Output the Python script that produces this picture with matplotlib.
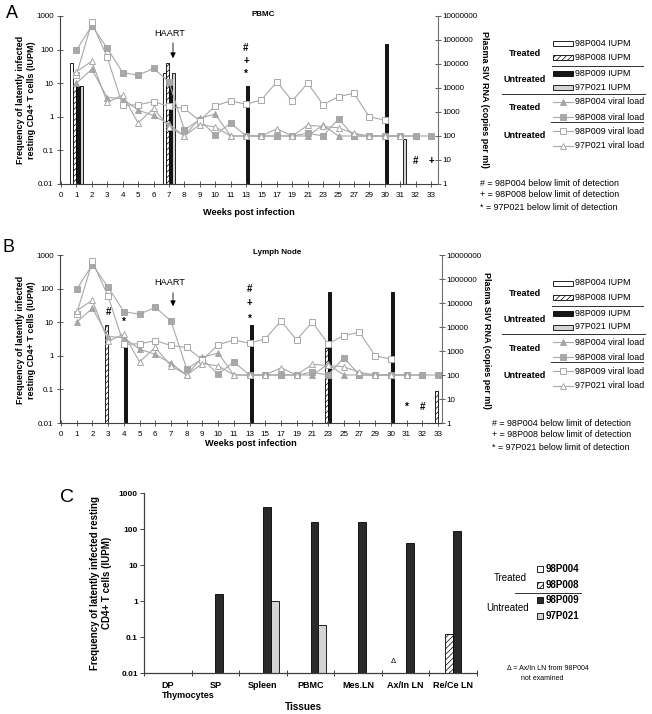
import numpy as np
import matplotlib
matplotlib.use('Agg')
import matplotlib.pyplot as plt
from matplotlib.patches import Rectangle
from matplotlib.lines import Line2D

plt.rcParams['font.family'] = ['Liberation Sans', 'DejaVu Sans']
plt.rcParams['hatch.linewidth'] = 0.5

nan = np.nan

# ---------------- data ----------------
weeks = [0, 1, 2, 3, 4, 5, 6, 7, 8, 9, 10, 11, 13, 15, 17, 19, 21, 23, 25, 27, 29, 30, 31, 32, 33]
week_labels = [str(w) for w in weeks]

# plasma viral load (copies per ml), aligned with weeks
vl_98P004 = [nan, 16000, 60000, 4000, 3600, 1200, 720, 310, 100, 550, 820, 100, 100, 100, 100, 100,
             100, 280, 100, 100, 100, 100, 100, 100, nan]
vl_98P008 = [nan, 370000, 4000000, 450000, 44000, 34000, 66000, 18000, 180, 470, 107, 350, 100, 100,
             100, 100, 130, 100, 520, 100, 100, 100, 100, 100, 100]
vl_98P009 = [nan, 36000, 5400000, 190000, 1900, 2000, 2700, 1700, 1400, 430, 1800, 2900, 2100, 3200,
             18000, 2900, 16000, 2000, 4400, 6000, 630, 460, nan, nan, nan]
vl_97P021 = [nan, 48000, 130000, 2500, 5100, 350, 1400, 240, 100, 300, 240, 100, 100, 100, 200, 100,
             280, 250, 220, 130, 100, 100, 100, nan, nan]

# PBMC IUPM bars (week, value)
pbmc_98P004_w, pbmc_98P004_v = [1, 7], [40, 20]
pbmc_98P008_w, pbmc_98P008_v = [1, 7], [8, 40]
pbmc_98P009_w, pbmc_98P009_v = [1, 7, 13, 30], [8, 10, 8, 150]
pbmc_97P021_w, pbmc_97P021_v = [1, 7, 31], [8, 20, 0.22]

# Lymph node IUPM bars
ln_98P004_w, ln_98P004_v = [], []
ln_98P008_w, ln_98P008_v = [3, 23, 33], [8, 1.7, 0.09]
ln_98P009_w, ln_98P009_v = [4, 13, 23, 30], [3, 8, 80, 80]
ln_97P021_w, ln_97P021_v = [], []

# below-detection symbols (symbol, week, IUPM position)
pbmc_symbols = [('#', 13, 114), ('+', 13, 47), ('*', 13, 19), ('#', 32, 0.05), ('+', 33, 0.05)]
ln_symbols = [('#', 3, 20), ('*', 4, 10), ('#', 13, 98), ('+', 13, 37), ('*', 13, 13),
              ('*', 31, 0.03), ('#', 32, 0.03)]

# Panel C tissues
tissues = ['DP', 'SP', 'Spleen', 'PBMC', 'Mes.LN', 'Ax/In LN', 'Re/Ce LN']
tis_98P004 = [nan, nan, nan, nan, nan, nan, nan]
tis_98P008 = [nan, nan, nan, nan, nan, nan, 0.12]
tis_98P009 = [nan, 1.6, 420, 155, 155, 42, 88]
tis_97P021 = [nan, nan, 1.0, 0.21, nan, nan, nan]

animals = ['98P004', '98P008', '98P009', '97P021']

# ---------------- styles ----------------
BAR_STYLES = [
    dict(facecolor='white', edgecolor='black', linewidth=0.6),
    dict(facecolor='white', edgecolor='black', linewidth=0.6, hatch='//////'),
    dict(facecolor='#161616', edgecolor='black', linewidth=0.6),
    dict(facecolor='#d4d4d4', edgecolor='black', linewidth=0.6),
]
LC = '#a8a8a8'
LINE_STYLES = [
    dict(color=LC, lw=0.8, marker='^', ms=4.4, mfc='#a8a8a8', mec='#a0a0a0', mew=0.6),
    dict(color=LC, lw=0.8, marker='s', ms=4.4, mfc='#a8a8a8', mec='#a0a0a0', mew=0.6),
    dict(color=LC, lw=0.8, marker='s', ms=4.8, mfc='white', mec='#a8a8a8', mew=0.7),
    dict(color=LC, lw=0.8, marker='^', ms=4.8, mfc='white', mec='#a8a8a8', mew=0.7),
]
SPC = '#404040'

W, H = 652, 714
fig = plt.figure(figsize=(W / 100, H / 100), dpi=100)


def fx(x):
    return x / W


def fy(y):
    return 1 - y / H


def ftext(x, y, s, **kw):
    kw.setdefault('ha', 'center')
    kw.setdefault('va', 'center')
    fig.text(fx(x), fy(y), s, **kw)


def make_axes(l, t, r, b):
    return fig.add_axes([fx(l), fy(b), (r - l) / W, (b - t) / H])


def timecourse(l, t, r, b, x0, x24, bar_sets, symbols, title, title_xy, haart):
    ax = make_axes(l, t, r, b)
    s = (x24 - x0) / 24.0
    ax.set_xlim((l - x0) / s, (r - x0) / s)
    ax.set_yscale('log')
    ax.set_ylim(0.01, 1000)
    idx = np.arange(len(weeks))
    bw = 0.2
    for k, (wk, vals) in enumerate(bar_sets):
        if not wk:
            continue
        pos = [weeks.index(w) + (k - 1.5) * bw for w in wk]
        ax.bar(pos, np.array(vals) - 0.01, bottom=0.01, width=bw, align='center', **BAR_STYLES[k])
    for sym, w, v in symbols:
        ax.text(weeks.index(w), v, sym, ha='center', va='center', fontsize=7, fontweight='bold')
    ax.set_xticks(idx)
    ax.set_xticklabels(week_labels)
    ax.set_yticks([0.01, 0.1, 1, 10, 100, 1000])
    ax.set_yticklabels(['0.01', '0.1', '1', '10', '100', '1000'])
    ax.yaxis.set_minor_locator(matplotlib.ticker.NullLocator())
    ax.tick_params(axis='x', direction='inout', length=4, width=0.6, labelsize=5.8, pad=4, colors=SPC,
                   labelcolor='black')
    ax.tick_params(axis='y', direction='inout', length=4, width=0.6, labelsize=5.8, pad=2.5, colors=SPC,
                   labelcolor='black')
    for sp in ['top', 'right']:
        ax.spines[sp].set_visible(False)
    for sp in ['left', 'bottom']:
        ax.spines[sp].set_color(SPC)
        ax.spines[sp].set_linewidth(0.8)

    ax2 = ax.twinx()
    ax2.set_yscale('log')
    ax2.set_ylim(1, 1e7)
    for vals, st in zip([vl_98P004, vl_98P008, vl_98P009, vl_97P021], LINE_STYLES):
        ax2.plot(idx, vals, zorder=3, **st)
    ax2.set_yticks([10 ** i for i in range(8)])
    ax2.set_yticklabels([str(10 ** i) for i in range(8)])
    ax2.yaxis.set_minor_locator(matplotlib.ticker.NullLocator())
    ax2.tick_params(axis='y', direction='inout', length=4, width=0.6, labelsize=5.8, pad=1.5, colors=SPC,
                    labelcolor='black')
    for sp in ['top', 'left', 'bottom']:
        ax2.spines[sp].set_visible(False)
    ax2.spines['right'].set_color('#707070')
    ax2.spines['right'].set_linewidth(0.8)
    ax2.set_xlim(ax.get_xlim())

    ftext(title_xy[0], title_xy[1], title, fontsize=5.8, fontweight='bold')
    (hx, hy_text, hy0, hy1) = haart
    ftext(hx - 3, hy_text, 'HAART', fontsize=6.6)
    fig.add_artist(matplotlib.patches.FancyArrowPatch(
        (fx(hx), fy(hy0)), (fx(hx), fy(hy1)), transform=fig.transFigure,
        arrowstyle='-|>', mutation_scale=8, color='black', lw=0.6))
    return ax, ax2


def legend_ab(dy, note_x):
    for y, s in [(53, 'Treated'), (80, 'Untreated'), (108, 'Treated'), (136, 'Untreated')]:
        ftext(525, y + dy, s, fontsize=6.5, fontweight='bold')
    for k, y in enumerate([43, 57, 73, 87]):
        fig.add_artist(Rectangle((fx(553), fy(y + dy + 2.5)), 20 / W, 5 / H, transform=fig.transFigure,
                                 **BAR_STYLES[k]))
        ftext(575, y + dy, animals[k] + ' IUPM', fontsize=6.4, ha='left')
    for k, y in enumerate([102, 117, 131, 146]):
        st = dict(LINE_STYLES[k])
        fig.add_artist(Line2D([fx(553), fx(573)], [fy(y + dy)] * 2, transform=fig.transFigure,
                              color=st['color'], lw=st['lw']))
        fig.add_artist(Line2D([fx(563)], [fy(y + dy)], transform=fig.transFigure, ls='none',
                              marker=st['marker'], ms=st['ms'] - 0.6, mfc=st['mfc'], mec=st['mec'],
                              mew=st['mew']))
        ftext(575, y + dy, animals[k] + ' viral load', fontsize=6.4, ha='left')
    for x0, x1, y in [(552, 643, 66), (502, 645, 94), (551, 643, 122)]:
        fig.add_artist(Line2D([fx(x0), fx(x1)], [fy(y + dy)] * 2, transform=fig.transFigure,
                              color='#303030', lw=0.7))
    for y, s in [(183, '# = 98P004 below limit of detection'), (195, '+ = 98P008 below limit of detection'),
                 (207, '* = 97P021 below limit of detection')]:
        ftext(note_x, y + dy, s, fontsize=6.4, ha='left')


# ---------------- Panel A ----------------
timecourse(60, 16, 438, 184, 61, 431,
           [(pbmc_98P004_w, pbmc_98P004_v), (pbmc_98P008_w, pbmc_98P008_v),
            (pbmc_98P009_w, pbmc_98P009_v), (pbmc_97P021_w, pbmc_97P021_v)],
           pbmc_symbols, 'PBMC', (263, 14), (173, 34, 40, 61))
ftext(12, 14, 'A', fontsize=13)
ftext(26, 100, 'Frequency of latently infected\nresting CD4+ T cells (IUPM)', fontsize=6.5,
      fontweight='bold', rotation=90, linespacing=1.3)
ftext(484, 99, 'Plasma SIV RNA (copies per ml)', fontsize=6.5, fontweight='bold', rotation=270)
ftext(249, 212, 'Weeks post infection', fontsize=6.6, fontweight='bold')
legend_ab(0, 480)

# ---------------- Panel B ----------------
timecourse(60, 255, 442, 423, 61, 438,
           [(ln_98P004_w, ln_98P004_v), (ln_98P008_w, ln_98P008_v),
            (ln_98P009_w, ln_98P009_v), (ln_97P021_w, ln_97P021_v)],
           ln_symbols, 'Lymph Node', (277, 252), (173, 283, 290, 309))
ftext(9, 247, 'B', fontsize=13)
ftext(26, 340, 'Frequency of latently infected\nresting CD4+ T cells (IUPM)', fontsize=6.5,
      fontweight='bold', rotation=90, linespacing=1.3)
ftext(487, 340, 'Plasma SIV RNA (copies per ml)', fontsize=6.5, fontweight='bold', rotation=270)
ftext(251, 443, 'Weeks post infection', fontsize=6.6, fontweight='bold')
legend_ab(240, 492)

# ---------------- Panel C ----------------
axc = make_axes(144, 493, 477, 673)
axc.set_xlim(-0.5, 6.5)
axc.set_yscale('log')
axc.set_ylim(0.01, 1000)
bwc = 0.168
xc = np.arange(len(tissues))
for k, vals in enumerate([tis_98P004, tis_98P008, tis_98P009, tis_97P021]):
    v = np.array(vals, dtype=float)
    m = ~np.isnan(v)
    if m.any():
        st = dict(BAR_STYLES[k])
        if k == 2:
            st['facecolor'] = '#2a2a2a'
        axc.bar(xc[m] + (k - 1.5) * bwc, v[m] - 0.01, bottom=0.01, width=bwc, **st)
axc.text(tissues.index('Ax/In LN') - 1.5 * bwc, 0.021, '\u0394', ha='center', va='center', fontsize=5.5)
axc.set_xticks(xc)
axc.set_xticklabels(tissues, fontweight='bold')
axc.set_xticks(np.arange(-0.5, 7, 1), minor=True)
axc.tick_params(axis='x', which='major', length=0, labelsize=6.5, pad=6)
axc.tick_params(axis='x', which='minor', direction='inout', length=4, width=0.7, colors=SPC)
axc.set_yticks([0.01, 0.1, 1, 10, 100, 1000])
axc.set_yticklabels(['0.01', '0.1', '1', '10', '100', '1000'], fontweight='bold')
axc.yaxis.set_minor_locator(matplotlib.ticker.NullLocator())
axc.tick_params(axis='y', direction='out', length=3, width=0.7, labelsize=6, pad=1.5, colors=SPC,
                labelcolor='black')
for sp in ['top', 'right']:
    axc.spines[sp].set_visible(False)
for sp in ['left', 'bottom']:
    axc.spines[sp].set_color(SPC)
    axc.spines[sp].set_linewidth(0.9)

ftext(67, 498, 'C', fontsize=14)
ftext(101, 583, 'Frequency of latently infected resting\nCD4+ T cells (IUPM)', fontsize=7,
      fontweight='bold', rotation=90, linespacing=1.3)
ftext(188, 696, 'Thymocytes', fontsize=6.5, fontweight='bold')
ftext(303, 707, 'Tissues', fontsize=7.2, fontweight='bold')

# legend C
ftext(510, 578, 'Treated', fontsize=7)
ftext(508, 608, 'Untreated', fontsize=7)
for k, y in enumerate([569, 585, 600, 616]):
    st = dict(BAR_STYLES[k])
    if k == 2:
        st['facecolor'] = '#2a2a2a'
    fig.add_artist(Rectangle((fx(537), fy(y + 3)), 6 / W, 6 / H, transform=fig.transFigure, **st))
    ftext(546, y, animals[k], fontsize=7, fontweight='bold', ha='left')
fig.add_artist(Line2D([fx(515), fx(581)], [fy(593)] * 2, transform=fig.transFigure, color='#303030', lw=0.7))
ftext(507, 669, '\u0394 = Ax/In LN from 98P004', fontsize=5, ha='left')
ftext(521, 679, 'not examined', fontsize=5, ha='left')

fig.savefig('out.png', dpi=100)
